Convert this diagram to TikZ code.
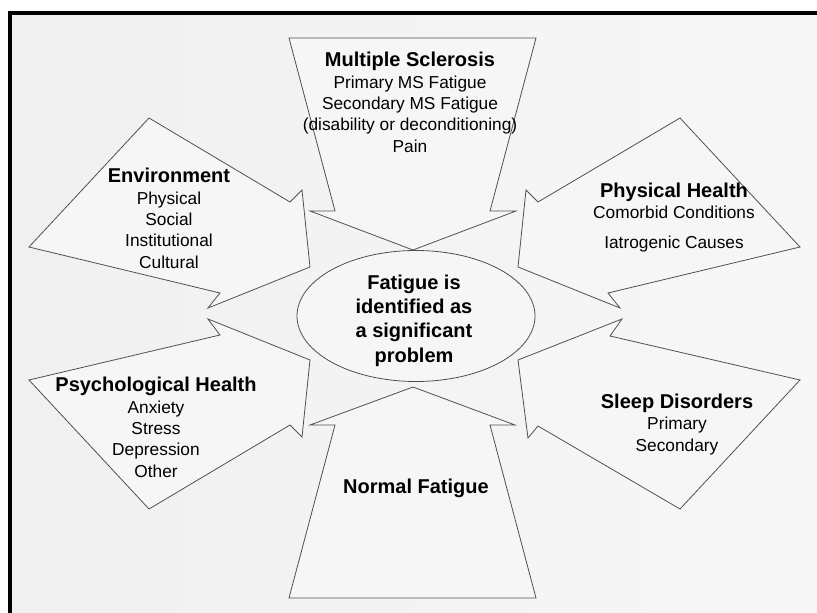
\documentclass[tikz,border=0pt]{standalone}
\usepackage{fontspec}
\setmainfont{Liberation Sans}
\usepackage{tikz}
\usetikzlibrary{shapes}
\definecolor{lightergray}{RGB}{246,246,246}
\definecolor{bgside}{RGB}{240,240,240}
\definecolor{bgmid}{RGB}{224,224,224}
\definecolor{bgright}{RGB}{247,247,247}
\definecolor{edgegray}{RGB}{80,80,80}
\tikzset{
  causearrow/.style={fill=lightergray, draw=edgegray, line width=0.8pt, line join=miter},
  causetext/.style={align=center, anchor=base, inner sep=0pt, text=black, font=\fontsize{17.3}{21.3}\selectfont},
}
\newcommand{\causehead}[1]{{\fontsize{20}{21.3}\selectfont\bfseries #1}}

\begin{document}
\begin{tikzpicture}[x=1pt,y=-1pt]
\useasboundingbox (0,0) rectangle (817,613);
\shade[left color=bgside, middle color=bgmid, right color=bgright] (10,13) rectangle (817,613);
\draw[line width=3.2pt] (10,613) -- (10,13) -- (817,13);
\filldraw[causearrow] (289,38) -- (536,38) -- (490,211) -- (516,211) -- (413,250) -- (310,211) -- (335,211) -- cycle;
\filldraw[causearrow] (289,598) -- (536,598) -- (490,425) -- (515,425) -- (413,387) -- (310,425) -- (335,425) -- cycle;
\filldraw[causearrow] (149,118) -- (290,202) -- (302,190) -- (310,267) -- (208,308) -- (220,293) -- (29,247) -- cycle;
\filldraw[causearrow] (680,118) -- (538,202) -- (526,190) -- (518,267) -- (620,308) -- (608,293) -- (800,247) -- cycle;
\filldraw[causearrow] (149,509) -- (290,425) -- (302,437) -- (310,360) -- (208,319) -- (220,335) -- (29,380) -- cycle;
\filldraw[causearrow] (680,509) -- (538,426) -- (528,438) -- (518,360) -- (622,319) -- (610,336) -- (800,380) -- cycle;
\node[ellipse, draw=edgegray, fill=lightergray, line width=0.8pt, minimum width=238, minimum height=131, inner sep=0pt] (fatigue) at (416,316) {};
\node[causetext, font=\bfseries\fontsize{20}{24.3}\selectfont] (fatiguetext) at (414,362) {Fatigue is\\identified as\\a significant\\problem};
\node[causetext] (ms) at (410,152) {\causehead{Multiple Sclerosis}\\Primary MS Fatigue\\Secondary MS Fatigue\\(disability or deconditioning)\\Pain};
\node[causetext] (environment) at (169,268) {\causehead{Environment}\\Physical\\Social\\Institutional\\Cultural};
\node[causetext] (physical) at (674,248) {\causehead{Physical Health}\\Comorbid Conditions\\[8pt]Iatrogenic Causes};
\node[causetext] (psych) at (156,477) {\causehead{Psychological Health}\\Anxiety\\Stress\\Depression\\Other};
\node[causetext] (sleep) at (677,451) {\causehead{Sleep Disorders}\\Primary\\Secondary};
\node[causetext] (normal) at (416,493) {\causehead{Normal Fatigue}};
\end{tikzpicture}
\end{document}
